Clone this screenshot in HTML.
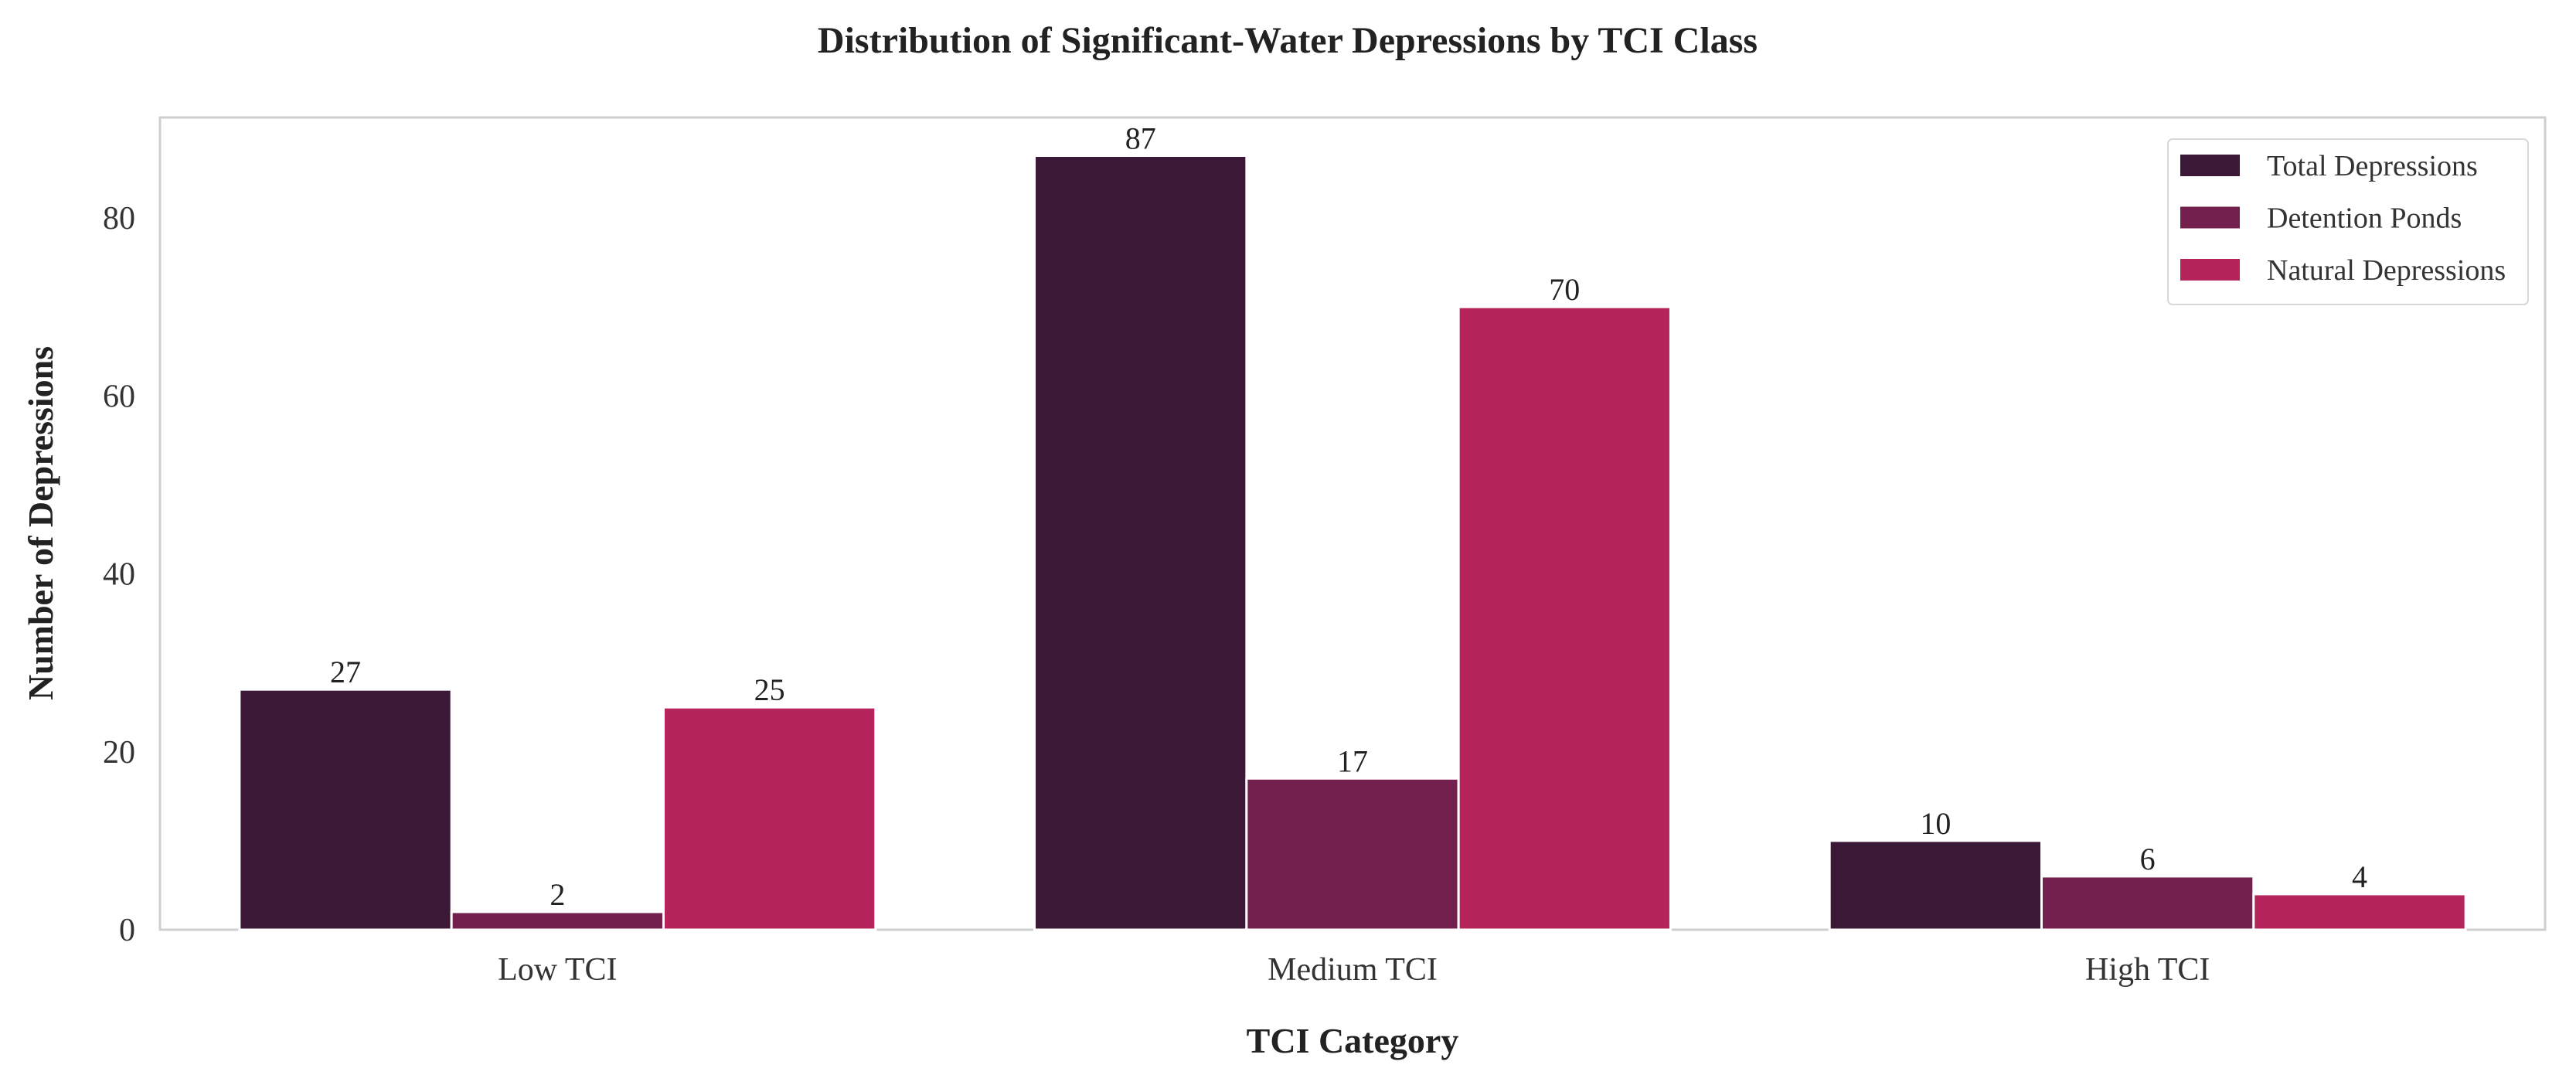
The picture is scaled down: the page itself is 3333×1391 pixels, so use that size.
<!DOCTYPE html>
<html><head><meta charset="utf-8"><style>
html,body{margin:0;padding:0;background:#fff;}
svg{display:block;font-family:"Liberation Serif",serif;}
</style></head><body>
<svg id="chart" width="3333" height="1391" viewBox="0 0 3333 1391" xmlns="http://www.w3.org/2000/svg">
<text x="1666" y="68" text-anchor="middle" font-size="48" font-weight="bold" fill="#222">Distribution of Significant-Water Depressions by TCI Class</text>
<rect x="207" y="152" width="3086" height="1051" fill="#fff" stroke="#cfcfcf" stroke-width="3"/>
<g id="bars"></g>
<g id="yticks"></g>
<g id="xticks"></g>
<text transform="translate(68,677) rotate(-90)" text-anchor="middle" font-size="46" font-weight="bold" fill="#222">Number of Depressions</text>
<text x="1750" y="1362" text-anchor="middle" font-size="46" font-weight="bold" fill="#222">TCI Category</text>
<g>
<rect x="2805" y="180" width="466" height="214" rx="6" fill="#fff" stroke="#d8d8d8" stroke-width="2"/>
<g id="legend"></g>
</g>
</svg>
<script>
const categories = ["Low TCI","Medium TCI","High TCI"];
const seriesNames = ["Total Depressions","Detention Ponds","Natural Depressions"];
const totalValues = [27,87,10];
const pondValues = [2,17,6];
const naturalValues = [25,70,4];
const yTicks = [0,20,40,60,80];
const seriesValues = [totalValues,pondValues,naturalValues];
const colors = ["#3b1836","#74204f","#b5245b"];
const NS="http://www.w3.org/2000/svg";
const L=207,R=3293,T=152,B=1203,yMax=91.3;
const catW=(R-L)/categories.length;
const xC=i=>L+catW*(i+0.5);
const yS=v=>B-(v/yMax)*(B-T);
const barW=catW*0.8/3;
function mk(tag,attrs,parent,text){const e=document.createElementNS(NS,tag);for(const k in attrs)e.setAttribute(k,attrs[k]);if(text!==undefined)e.textContent=text;parent.appendChild(e);return e;}
const gb=document.getElementById('bars');
seriesValues.forEach((vals,s)=>{
  vals.forEach((v,i)=>{
    const x=xC(i)-catW*0.4+s*barW;
    const r=mk('rect',{x:x,y:yS(v),width:barW,height:B-yS(v),fill:colors[s],stroke:"#fff","stroke-width":3},gb);
    
    
    const t=mk('text',{x:x+barW/2,y:yS(v)-9,"text-anchor":"middle","font-size":40,fill:"#222"},gb,String(v));
    
    
  });
});
const gy=document.getElementById('yticks');
yTicks.forEach(v=>{
  const t=mk('text',{x:175,y:yS(v)+14,"text-anchor":"end","font-size":42,fill:"#333"},gy,String(v));
  
  
});
const gx=document.getElementById('xticks');
categories.forEach((c,i)=>{
  const t=mk('text',{x:xC(i),y:1268,"text-anchor":"middle","font-size":42,fill:"#333"},gx,c);
  
  
});
const gl=document.getElementById('legend');
seriesNames.forEach((n,s)=>{
  const cy=214+s*67.5;
  const r=mk('rect',{x:2821,y:cy-14,width:77,height:28,fill:colors[s]},gl);
  
  
  const t=mk('text',{x:2933,y:cy+13,"font-size":38,fill:"#333"},gl,n);
  
  
});
</script>
</body></html>
